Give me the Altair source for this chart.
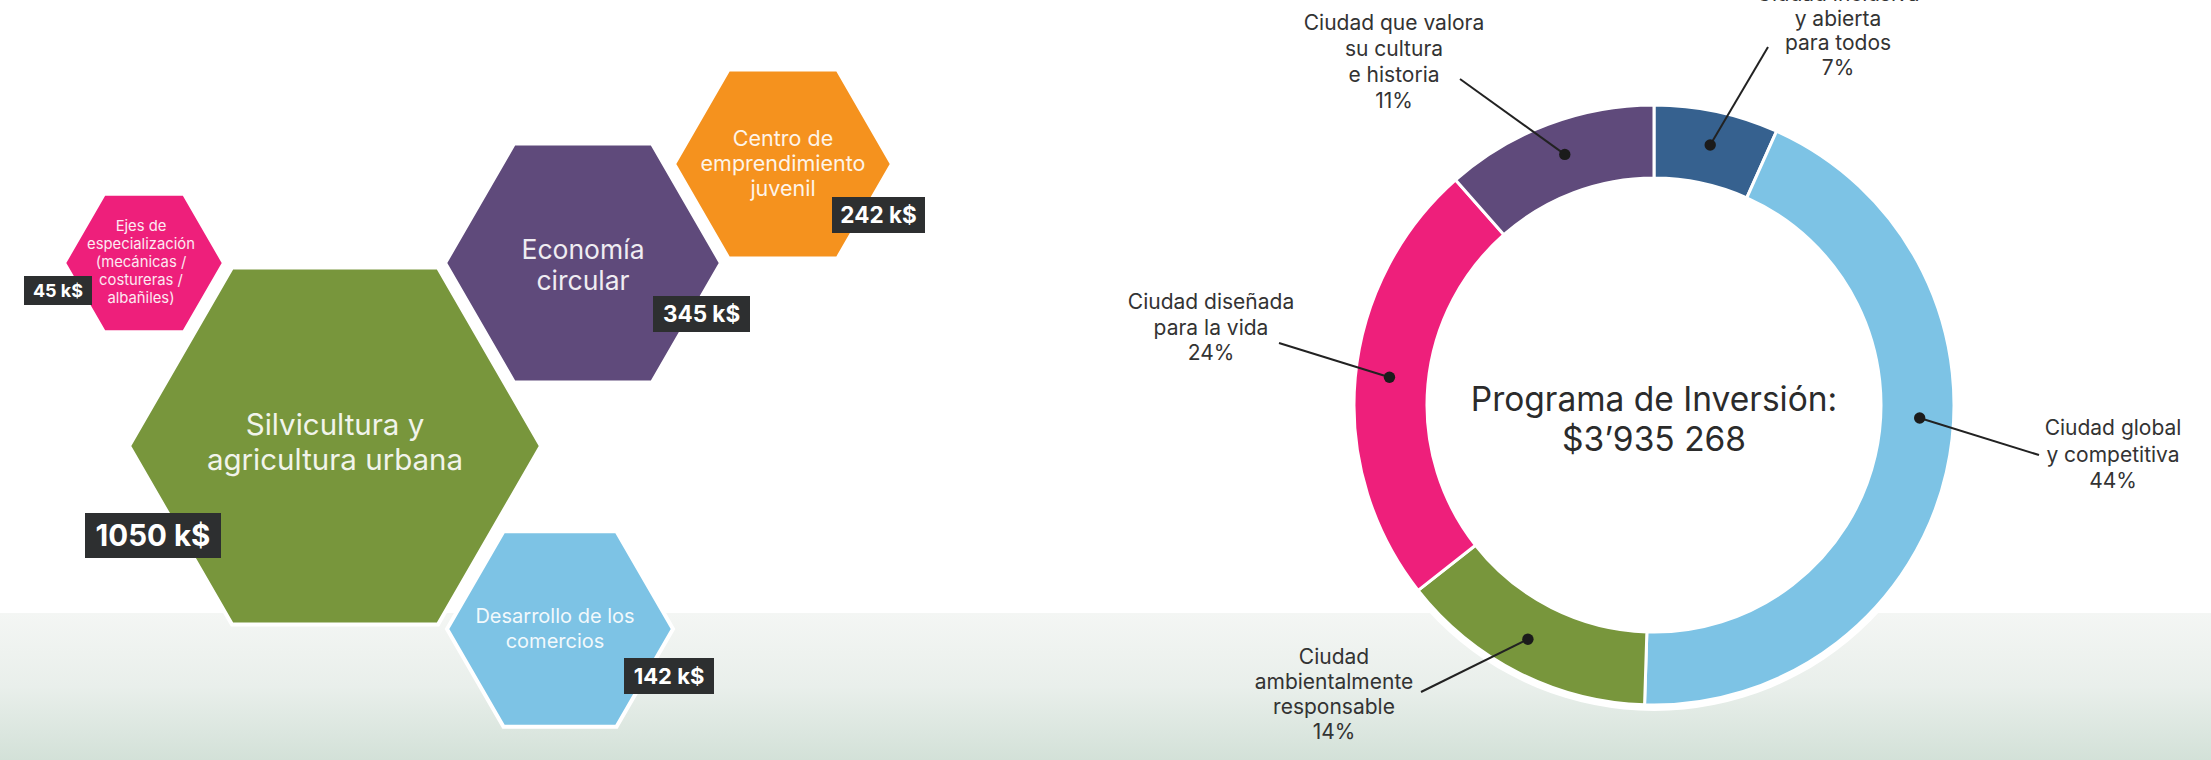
import math
import altair as alt
import pandas as pd

# ---------------- data ----------------
hex_titles = [
    ["Ejes de", "especialización", "(mecánicas /", "costureras /", "albañiles)"],
    ["Silvicultura y", "agricultura urbana"],
    ["Economía", "circular"],
    ["Centro de", "emprendimiento", "juvenil"],
    ["Desarrollo de los", "comercios"],
]
hex_values_k = [45, 1050, 345, 242, 142]
hex_colors = ["#EE1F7B", "#78963C", "#5F4A7B", "#F5921E", "#7DC3E5"]

seg_titles = [
    ["Ciudad inclusiva", "y abierta", "para todos"],
    ["Ciudad global", "y competitiva"],
    ["Ciudad", "ambientalmente", "responsable"],
    ["Ciudad diseñada", "para la vida"],
    ["Ciudad que valora", "su cultura", "e historia"],
]
seg_pct_text = [7, 44, 14, 24, 11]
seg_share = [6.7, 43.8, 13.9, 24.1, 11.5]
seg_colors = ["#36618F", "#7DC3E5", "#78963C", "#EE1F7B", "#5F4A7B"]

center_lines = ["Programa de Inversión:", "$3’935 268"]

# ---------------- layout (pixels) ----------------
W, H = 2211, 760
FONT = "Inter"

hex_cx = [144, 335, 583, 783, 560]
hex_cy = [263, 446, 263, 164, 629]
hex_r = [80, 206, 138, 109, 113]

hex_lab_x = [141, 335, 583, 783, 555]
hex_lab_cy = [263, 443.5, 266.5, 165, 629.5]
hex_lab_fs = [14.8, 29.5, 26.5, 21.5, 20]
hex_lab_lh = [18, 35, 31, 25, 25]

box_x = [24, 85, 653, 832, 624]
box_x2 = [92, 221, 750, 925, 714]
box_y = [276, 513, 296, 197, 658]
box_y2 = [305, 558, 332, 233, 694]
box_fs = [18, 29.5, 22.5, 22.5, 22]

donut_cx, donut_cy = 1654, 405
r_in, r_out = 227, 300

dot_angle = [12.2, 92.8, 208.3, 276.0, 340.4]
dot_r = 266
lead_x2 = [1768, 2039, 1421, 1279, 1460]
lead_y2 = [47, 455, 692, 343, 79]

lab_x = [1838, 2113, 1334, 1211, 1394]
lab_y0 = [-5, 429, 658, 303, 24]
lab_dy = [24.5, 26.5, 25, 25.5, 26]
lab_fs = 21

center_fs = 33.5

band_top = 613

HEX_PATH = "M-1,0L-0.5,-0.866L0.5,-0.866L1,0L0.5,0.866L-0.5,0.866Z"

xs = alt.Scale(domain=[0, W], range=[0, W], nice=False, zero=False)
ys = alt.Scale(domain=[0, H], range=[0, H], nice=False, zero=False)


def X(f="x"):
    return alt.X(f"{f}:Q", scale=xs, axis=None)


def Y(f="y"):
    return alt.Y(f"{f}:Q", scale=ys, axis=None)


# ---------------- tables ----------------
band_df = pd.DataFrame({"x": [0], "x2": [W], "y": [band_top], "y2": [H]})

hex_df = pd.DataFrame({
    "x": hex_cx, "y": hex_cy,
    "size": [(2 * r) ** 2 for r in hex_r],
    "color": hex_colors,
})

hex_text_rows = []
for i, lines in enumerate(hex_titles):
    n = len(lines)
    for j, t in enumerate(lines):
        hex_text_rows.append({
            "x": hex_lab_x[i],
            "y": hex_lab_cy[i] + (j - (n - 1) / 2) * hex_lab_lh[i],
            "text": t, "fs": hex_lab_fs[i],
        })
hex_text_df = pd.DataFrame(hex_text_rows)

box_df = pd.DataFrame({
    "x": box_x, "x2": box_x2, "y": box_y, "y2": box_y2,
    "cx": [(a + b) / 2 for a, b in zip(box_x, box_x2)],
    "cy": [(a + b) / 2 + 1 for a, b in zip(box_y, box_y2)],
    "text": [f"{v} k$" for v in hex_values_k],
    "fs": box_fs,
})

starts, ends, acc = [], [], 0.0
for s in seg_share:
    starts.append(acc)
    acc += s
    ends.append(acc)
seg_df = pd.DataFrame({
    "cx": donut_cx, "cy": donut_cy,
    "start": starts, "end": ends, "color": seg_colors,
    "order": list(range(len(seg_share))),
})
disk_df = pd.DataFrame({"cx": [donut_cx], "cy": [donut_cy], "start": [0], "end": [100]})

dot_df = pd.DataFrame({
    "x": [donut_cx + dot_r * math.sin(math.radians(a)) for a in dot_angle],
    "y": [donut_cy - dot_r * math.cos(math.radians(a)) for a in dot_angle],
    "x2": lead_x2, "y2": lead_y2,
})

lab_rows = []
for i, lines in enumerate(seg_titles):
    all_lines = lines + [f"{seg_pct_text[i]}%"]
    for j, t in enumerate(all_lines):
        lab_rows.append({"x": lab_x[i], "y": lab_y0[i] + j * lab_dy[i], "text": t})
lab_df = pd.DataFrame(lab_rows)

center_df = pd.DataFrame({
    "x": [donut_cx] * 2,
    "y": [donut_cy - 4, donut_cy + 36],
    "text": center_lines,
})

# ---------------- layers ----------------
band = alt.Chart(band_df).mark_rect(
    color=alt.Gradient(
        gradient="linear",
        stops=[alt.GradientStop(color="#f4f6f4", offset=0),
               alt.GradientStop(color="#e9efeb", offset=0.5),
               alt.GradientStop(color="#d3e1d8", offset=1)],
        x1=0, x2=0, y1=0, y2=1,
    )
).encode(x=X(), x2="x2:Q", y=Y(), y2="y2:Q")

hexes = alt.Chart(hex_df).mark_point(
    shape=HEX_PATH, filled=True, opacity=1, strokeWidth=4
).encode(
    x=X(), y=Y(),
    size=alt.Size("size:Q", scale=None),
    fill=alt.Fill("color:N", scale=None),
    stroke=alt.value("white"),
)

hex_text = alt.Chart(hex_text_df).mark_text(
    font=FONT, align="center", baseline="middle", color="white", opacity=0.9
).encode(x=X(), y=Y(), text="text:N", size=alt.Size("fs:Q", scale=None))

boxes = alt.Chart(box_df).mark_rect(color="#2D2F30").encode(
    x=X(), x2="x2:Q", y=Y(), y2="y2:Q"
)
box_text = alt.Chart(box_df).mark_text(
    font=FONT, fontWeight="bold", align="center", baseline="middle", color="white"
).encode(x=X("cx"), y=Y("cy"), text="text:N", size=alt.Size("fs:Q", scale=None))

theta_scale = alt.Scale(domain=[0, 100], range=[0, 2 * math.pi])

disk = alt.Chart(disk_df).mark_arc(innerRadius=0, outerRadius=r_out + 6, color="white").encode(
    x=X("cx"), y=Y("cy"),
    theta=alt.Theta("start:Q", scale=theta_scale), theta2="end:Q",
)

donut = alt.Chart(seg_df).mark_arc(
    innerRadius=r_in, outerRadius=r_out, stroke="white", strokeWidth=3
).encode(
    x=X("cx"), y=Y("cy"),
    theta=alt.Theta("start:Q", scale=theta_scale), theta2="end:Q",
    fill=alt.Fill("color:N", scale=None),
    order="order:Q",
)

leaders = alt.Chart(dot_df).mark_rule(color="#222222", strokeWidth=2).encode(
    x=X(), y=Y(), x2="x2:Q", y2="y2:Q"
)
dots = alt.Chart(dot_df).mark_circle(size=130, color="#1b1b1b", opacity=1).encode(
    x=X(), y=Y()
)

labels = alt.Chart(lab_df).mark_text(
    font=FONT, fontSize=lab_fs, align="center", baseline="middle", color="#333333"
).encode(x=X(), y=Y(), text="text:N")

center = alt.Chart(center_df).mark_text(
    font=FONT, fontSize=center_fs, align="center", baseline="middle", color="#2b2b2b"
).encode(x=X(), y=Y(), text="text:N")

chart = alt.layer(
    band, hexes, hex_text, boxes, box_text,
    disk, donut, leaders, dots, labels, center
).properties(
    width=W, height=H, padding=0, background="white",
    autosize=alt.AutoSizeParams(type="none"),
).configure_view(stroke=None)

chart.save("out.html", embed_options={"renderer": "svg", "actions": False})
